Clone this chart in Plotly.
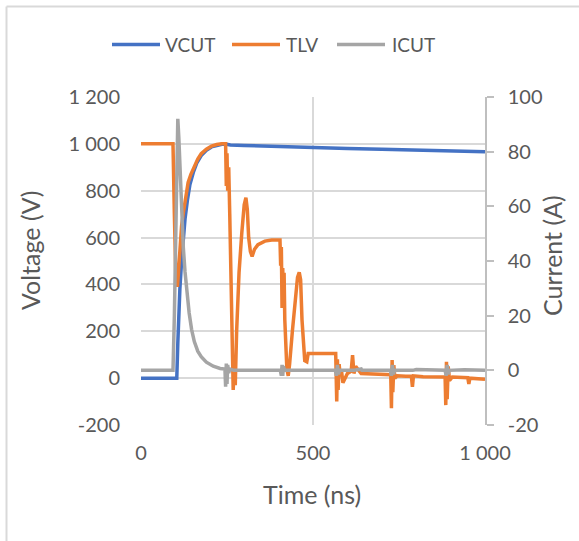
import plotly.graph_objects as go

# ---------------- data ----------------
vcut_t = [0, 100, 104, 107, 110, 113, 118, 123, 128, 135, 142, 152, 162, 175, 190,
          205, 220, 235, 245, 260, 300, 400, 500, 600, 700, 800, 900, 1000]
vcut_v = [0, 0, 0, 150, 300, 380, 500, 600, 680, 760, 825, 878, 918, 950, 973,
          987, 994, 998, 999, 995, 993, 988, 984, 980, 977, 973, 969, 966]

tlv_t = [0, 93, 97, 101, 106, 109, 113, 118, 123, 130, 137, 145, 155, 165, 175, 190,
         205, 220, 235, 246, 248, 250, 252, 255, 258, 262, 265, 268, 271, 274, 278,
         285, 293, 300, 305, 309, 313, 318, 323, 330, 340, 360, 380, 400, 404, 406,
         408, 410, 412, 414, 416, 418, 421, 424, 428, 432, 440, 448, 455, 460, 464,
         468, 472, 476, 482, 486, 500, 540, 566, 569, 571, 573, 576, 579, 583, 587,
         600, 611, 615, 619, 624, 640, 670, 700, 726, 728, 730, 732, 735, 738, 745,
         770, 786, 789, 792, 820, 860, 884, 886, 888, 890, 893, 897, 905, 950, 953,
         956, 1000]
tlv_v = [1000, 1000, 700, 450, 390, 450, 560, 650, 705, 780, 835, 870, 905, 935, 958, 977,
         990, 997, 1000, 1000, 820, 960, 800, 900, 700, 300, 0, -50, 50, -30, 200,
         450, 620, 740, 770, 720, 600, 540, 520, 550, 570, 585, 590, 592, 590, 480,
         560, 300, 470, 330, 450, 250, 120, 40, 10, 60, 200, 340, 430, 452, 420,
         250, 140, 75, 70, 105, 105, 105, 105, -100, 80, -50, 60, 10, 30, -20,
         20, 30, 98, 20, 50, 20, 18, 15, 15, -128, 77, -60, 55, 0, 10,
         8, 8, -37, 10, 6, 5, 5, -115, 70, -90, 50, -10, 5, 2, -25,
         0, -5]

icut_t = [0, 93, 97, 101, 104, 107, 110, 114, 118, 123, 128, 134, 140, 147, 155, 165,
          175, 190, 210, 230, 244, 246, 248, 250, 252, 255, 258, 270, 300, 350, 405,
          408, 410, 412, 414, 417, 440, 480, 565, 568, 571, 574, 577, 620, 640, 642,
          725, 728, 731, 734, 737, 790, 800, 884, 887, 890, 893, 896, 940, 1000]
icut_a = [0, 0, 20, 55, 80, 92, 85, 70, 57, 45, 36, 28, 21, 15, 10.5, 7,
          5, 3, 1.5, 0.7, 0.5, -6, 2.5, -5, 2, -1, 0.5, 0, 0, 0, 0,
          -2, 2, -2, 1.5, 0, 0, 0, 0, -2, 2, -1.5, 0, 0, 0.5, 0,
          0, -2, 2, -1.5, 0, 0, 0.3, 0, -2, 2, -1.5, 0, 0.2, 0]

series_names = ["VCUT", "TLV", "ICUT"]
series_colors = ["#4472C4", "#ED7D31", "#A5A5A5"]

x_ticks = [0, 500, 1000]
x_ticktext = ["0", "500", "1 000"]
v_ticks = [-200, 0, 200, 400, 600, 800, 1000, 1200]
v_ticktext = ["-200", "0", "200", "400", "600", "800", "1 000", "1 200"]
a_ticks = [-20, 0, 20, 40, 60, 80, 100]
a_ticktext = ["-20", "0", "20", "40", "60", "80", "100"]

# ---------------- figure ----------------
FONT = "Lato"
TXT = "#595959"
GRID = "#D9D9D9"
LW = 3.5

L, R, T, B = 141, 485, 97, 425
W, H = 579, 541


def px(xp):
    return (xp - L) / (R - L)


def py(yp):
    return (B - yp) / (B - T)


fig = go.Figure()
fig.add_trace(go.Scatter(x=vcut_t, y=vcut_v, name=series_names[0], mode="lines",
                         line=dict(color=series_colors[0], width=LW)))
fig.add_trace(go.Scatter(x=tlv_t, y=tlv_v, name=series_names[1], mode="lines",
                         line=dict(color=series_colors[1], width=LW)))
fig.add_trace(go.Scatter(x=icut_t, y=icut_a, name=series_names[2], mode="lines",
                         yaxis="y2", line=dict(color=series_colors[2], width=LW)))

# manual legend (Excel-like long line samples)
legend_line_x = [(112, 160), (232, 280), (337, 385)]
legend_text_x = [163, 284, 390]
LEG_Y = 44.5
shapes = []
annotations = []
for (x0, x1), tx, nm, col in zip(legend_line_x, legend_text_x, series_names, series_colors):
    shapes.append(dict(type="line", xref="paper", yref="paper", x0=px(x0), x1=px(x1),
                       y0=py(LEG_Y), y1=py(LEG_Y), line=dict(color=col, width=3.5)))
    annotations.append(dict(text=nm, x=px(tx), y=py(LEG_Y), xref="paper", yref="paper",
                            xanchor="left", yanchor="middle", showarrow=False,
                            font=dict(size=19, color=TXT)))

# chart-area border fragments (left and top)
shapes.append(dict(type="line", xref="paper", yref="paper", x0=px(6.5), x1=px(6.5),
                   y0=py(6.5), y1=py(545), line=dict(color=GRID, width=2)))
shapes.append(dict(type="line", xref="paper", yref="paper", x0=px(6.5), x1=px(585),
                   y0=py(6.5), y1=py(6.5), line=dict(color=GRID, width=2)))

annotations += [
    dict(text="Voltage (V)", x=px(30), y=py(250), xref="paper", yref="paper",
         xanchor="center", yanchor="middle",
         textangle=-90, showarrow=False, font=dict(size=25, color=TXT)),
    dict(text="Current (A)", x=px(552), y=py(256), xref="paper", yref="paper",
         xanchor="center", yanchor="middle",
         textangle=-90, showarrow=False, font=dict(size=25, color=TXT)),
    dict(text="Time (ns)", x=px(312), y=py(494), xref="paper", yref="paper",
         xanchor="center", yanchor="middle",
         showarrow=False, font=dict(size=25, color=TXT)),
]

fig.update_layout(
    width=W, height=H,
    margin=dict(l=L, r=W - R, t=T, b=H - B),
    paper_bgcolor="white", plot_bgcolor="white",
    font=dict(family=FONT, color=TXT, size=20),
    showlegend=False,
    xaxis=dict(range=[0, 1000], tickvals=x_ticks, ticktext=x_ticktext,
               showgrid=True, gridcolor=GRID, gridwidth=1.5, zeroline=False,
               showline=False, ticks="", ticklabelstandoff=14,
               tickfont=dict(size=20, color=TXT)),
    yaxis=dict(range=[-200, 1200], tickvals=v_ticks, ticktext=v_ticktext,
               showgrid=True, gridcolor=GRID, gridwidth=1.5, zeroline=False,
               showline=False, ticks="", ticklabelstandoff=20,
               tickfont=dict(size=20, color=TXT)),
    yaxis2=dict(range=[-20, 100], tickvals=a_ticks, ticktext=a_ticktext,
                overlaying="y", side="right", showgrid=False, zeroline=False,
                showline=True, linecolor="#BFBFBF", linewidth=1.5,
                ticks="outside", ticklen=7, tickcolor="#BFBFBF", tickwidth=1.5,
                ticklabelstandoff=10, tickfont=dict(size=20, color=TXT)),
    annotations=annotations,
    shapes=shapes,
)

fig.write_html("out.html")
